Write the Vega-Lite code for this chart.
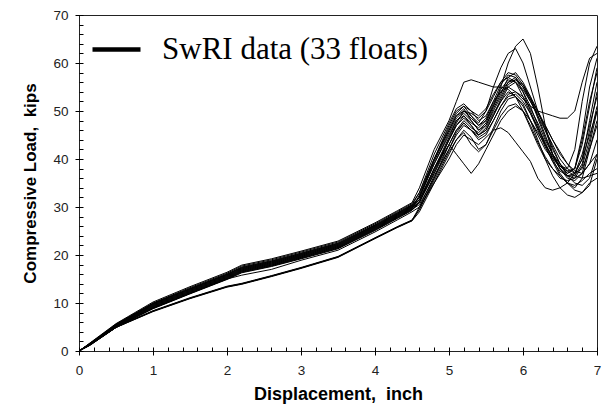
{
"$schema": "https://vega.github.io/schema/vega-lite/v6.json",
"width": 518, "height": 336,
"autosize": {"type": "none"},
"padding": {"left": 79, "top": 15, "right": 7, "bottom": 53},
"background": "white",
"config": {"view": {"stroke": "#222", "strokeWidth": 1}, "font": "Liberation Sans"},
"data": {"values": [
{"f":1,"x":0,"y":0},{"f":1,"x":0.15,"y":1.7},{"f":1,"x":0.5,"y":5.7},{"f":1,"x":1,"y":10.2},{"f":1,"x":1.5,"y":13.4},{"f":1,"x":2,"y":16.4},{"f":1,"x":2.2,"y":17.9},{"f":1,"x":2.6,"y":19.2},{"f":1,"x":3,"y":20.8},{"f":1,"x":3.5,"y":22.9},{"f":1,"x":4,"y":26.7},{"f":1,"x":4.3,"y":29.2},{"f":1,"x":4.5,"y":30.9},
{"f":1,"x":4.6,"y":34},{"f":1,"x":4.8,"y":42},{"f":1,"x":5,"y":48},{"f":1,"x":5.1,"y":52},{"f":1,"x":5.2,"y":56},{"f":1,"x":5.3,"y":56.5},{"f":1,"x":5.4,"y":56},{"f":1,"x":5.5,"y":55.5},{"f":1,"x":5.6,"y":55},{"f":1,"x":5.7,"y":55},{"f":1,"x":5.8,"y":54.5},{"f":1,"x":5.9,"y":53},{"f":1,"x":6,"y":51},{"f":1,"x":6.1,"y":48},{"f":1,"x":6.2,"y":45},{"f":1,"x":6.3,"y":42},{"f":1,"x":6.4,"y":40},{"f":1,"x":6.5,"y":38.5},{"f":1,"x":6.6,"y":37.5},{"f":1,"x":6.7,"y":38},{"f":1,"x":6.8,"y":44},{"f":1,"x":6.9,"y":52},{"f":1,"x":7,"y":58},
{"f":2,"x":0,"y":0},{"f":2,"x":0.15,"y":1.6},{"f":2,"x":0.5,"y":5.6},{"f":2,"x":1,"y":10.0},{"f":2,"x":1.5,"y":13.2},{"f":2,"x":2,"y":16.2},{"f":2,"x":2.2,"y":17.7},{"f":2,"x":2.6,"y":19.0},{"f":2,"x":3,"y":20.6},{"f":2,"x":3.5,"y":22.7},{"f":2,"x":4,"y":26.5},{"f":2,"x":4.3,"y":29.0},{"f":2,"x":4.5,"y":30.7},
{"f":2,"x":4.6,"y":33},{"f":2,"x":4.8,"y":40},{"f":2,"x":5,"y":46},{"f":2,"x":5.1,"y":49},{"f":2,"x":5.2,"y":50},{"f":2,"x":5.3,"y":48.5},{"f":2,"x":5.4,"y":47},{"f":2,"x":5.5,"y":48},{"f":2,"x":5.6,"y":51},{"f":2,"x":5.7,"y":55},{"f":2,"x":5.8,"y":60},{"f":2,"x":5.9,"y":63.5},{"f":2,"x":6,"y":65},{"f":2,"x":6.1,"y":62},{"f":2,"x":6.2,"y":55},{"f":2,"x":6.3,"y":47},{"f":2,"x":6.4,"y":41},{"f":2,"x":6.5,"y":38},{"f":2,"x":6.6,"y":36.5},{"f":2,"x":6.7,"y":36},{"f":2,"x":6.8,"y":37},{"f":2,"x":6.9,"y":39},{"f":2,"x":7,"y":41},
{"f":3,"x":0,"y":0},{"f":3,"x":0.15,"y":1.6},{"f":3,"x":0.5,"y":5.5},{"f":3,"x":1,"y":9.9},{"f":3,"x":1.5,"y":13.0},{"f":3,"x":2,"y":16.0},{"f":3,"x":2.2,"y":17.5},{"f":3,"x":2.6,"y":18.8},{"f":3,"x":3,"y":20.4},{"f":3,"x":3.5,"y":22.5},{"f":3,"x":4,"y":26.3},{"f":3,"x":4.3,"y":28.8},{"f":3,"x":4.5,"y":30.5},
{"f":3,"x":4.6,"y":32},{"f":3,"x":4.8,"y":40},{"f":3,"x":5,"y":47},{"f":3,"x":5.1,"y":50},{"f":3,"x":5.2,"y":51},{"f":3,"x":5.3,"y":49},{"f":3,"x":5.4,"y":47.5},{"f":3,"x":5.5,"y":50},{"f":3,"x":5.6,"y":55},{"f":3,"x":5.7,"y":59},{"f":3,"x":5.8,"y":62},{"f":3,"x":5.9,"y":63},{"f":3,"x":6,"y":60},{"f":3,"x":6.1,"y":55},{"f":3,"x":6.2,"y":50},{"f":3,"x":6.3,"y":46},{"f":3,"x":6.4,"y":42},{"f":3,"x":6.5,"y":39},{"f":3,"x":6.6,"y":37},{"f":3,"x":6.7,"y":38},{"f":3,"x":6.8,"y":45},{"f":3,"x":6.9,"y":55},{"f":3,"x":7,"y":61},
{"f":4,"x":0,"y":0},{"f":4,"x":0.15,"y":1.5},{"f":4,"x":0.5,"y":5.4},{"f":4,"x":1,"y":9.8},{"f":4,"x":1.5,"y":12.9},{"f":4,"x":2,"y":15.9},{"f":4,"x":2.2,"y":17.3},{"f":4,"x":2.6,"y":18.6},{"f":4,"x":3,"y":20.2},{"f":4,"x":3.5,"y":22.3},{"f":4,"x":4,"y":26.1},{"f":4,"x":4.3,"y":28.6},{"f":4,"x":4.5,"y":30.3},
{"f":4,"x":4.6,"y":32},{"f":4,"x":4.8,"y":39},{"f":4,"x":5,"y":45},{"f":4,"x":5.1,"y":48},{"f":4,"x":5.2,"y":49.5},{"f":4,"x":5.3,"y":48},{"f":4,"x":5.4,"y":46},{"f":4,"x":5.5,"y":47},{"f":4,"x":5.6,"y":50},{"f":4,"x":5.7,"y":53},{"f":4,"x":5.8,"y":56},{"f":4,"x":5.9,"y":57},{"f":4,"x":6,"y":55},{"f":4,"x":6.1,"y":52},{"f":4,"x":6.2,"y":49},{"f":4,"x":6.3,"y":46},{"f":4,"x":6.4,"y":43},{"f":4,"x":6.5,"y":40},{"f":4,"x":6.6,"y":38},{"f":4,"x":6.7,"y":37},{"f":4,"x":6.8,"y":40},{"f":4,"x":6.9,"y":48},{"f":4,"x":7,"y":56},
{"f":5,"x":0,"y":0},{"f":5,"x":0.15,"y":1.5},{"f":5,"x":0.5,"y":5.3},{"f":5,"x":1,"y":9.6},{"f":5,"x":1.5,"y":12.7},{"f":5,"x":2,"y":15.7},{"f":5,"x":2.2,"y":17.1},{"f":5,"x":2.6,"y":18.4},{"f":5,"x":3,"y":20.0},{"f":5,"x":3.5,"y":22.1},{"f":5,"x":4,"y":25.9},{"f":5,"x":4.3,"y":28.4},{"f":5,"x":4.5,"y":30.1},
{"f":5,"x":4.6,"y":31.5},{"f":5,"x":4.8,"y":38},{"f":5,"x":5,"y":44},{"f":5,"x":5.1,"y":47},{"f":5,"x":5.2,"y":49},{"f":5,"x":5.3,"y":47},{"f":5,"x":5.4,"y":45},{"f":5,"x":5.5,"y":46},{"f":5,"x":5.6,"y":49},{"f":5,"x":5.7,"y":52},{"f":5,"x":5.8,"y":55},{"f":5,"x":5.9,"y":56},{"f":5,"x":6,"y":54.5},{"f":5,"x":6.1,"y":52},{"f":5,"x":6.2,"y":49.5},{"f":5,"x":6.3,"y":47},{"f":5,"x":6.4,"y":44},{"f":5,"x":6.5,"y":41},{"f":5,"x":6.6,"y":39},{"f":5,"x":6.7,"y":37.5},{"f":5,"x":6.8,"y":37},{"f":5,"x":6.9,"y":39},{"f":5,"x":7,"y":44},
{"f":6,"x":0,"y":0},{"f":6,"x":0.15,"y":1.5},{"f":6,"x":0.5,"y":5.3},{"f":6,"x":1,"y":9.5},{"f":6,"x":1.5,"y":12.6},{"f":6,"x":2,"y":15.6},{"f":6,"x":2.2,"y":17.0},{"f":6,"x":2.6,"y":18.3},{"f":6,"x":3,"y":19.9},{"f":6,"x":3.5,"y":22.0},{"f":6,"x":4,"y":25.8},{"f":6,"x":4.3,"y":28.3},{"f":6,"x":4.5,"y":30.0},
{"f":6,"x":4.6,"y":32},{"f":6,"x":4.8,"y":39},{"f":6,"x":5,"y":45.5},{"f":6,"x":5.1,"y":48.5},{"f":6,"x":5.2,"y":50},{"f":6,"x":5.3,"y":49.5},{"f":6,"x":5.4,"y":48.5},{"f":6,"x":5.5,"y":50},{"f":6,"x":5.6,"y":53},{"f":6,"x":5.7,"y":56},{"f":6,"x":5.8,"y":58},{"f":6,"x":5.9,"y":57.5},{"f":6,"x":6,"y":55.5},{"f":6,"x":6.1,"y":52.5},{"f":6,"x":6.2,"y":48.5},{"f":6,"x":6.3,"y":44.5},{"f":6,"x":6.4,"y":41},{"f":6,"x":6.5,"y":38},{"f":6,"x":6.6,"y":36},{"f":6,"x":6.7,"y":35.5},{"f":6,"x":6.8,"y":37},{"f":6,"x":6.9,"y":43},{"f":6,"x":7,"y":50},
{"f":7,"x":0,"y":0},{"f":7,"x":0.15,"y":1.4},{"f":7,"x":0.5,"y":5.2},{"f":7,"x":1,"y":9.4},{"f":7,"x":1.5,"y":12.5},{"f":7,"x":2,"y":15.5},{"f":7,"x":2.2,"y":16.9},{"f":7,"x":2.6,"y":18.2},{"f":7,"x":3,"y":19.8},{"f":7,"x":3.5,"y":21.9},{"f":7,"x":4,"y":25.7},{"f":7,"x":4.3,"y":28.2},{"f":7,"x":4.5,"y":29.9},
{"f":7,"x":4.6,"y":31},{"f":7,"x":4.8,"y":37},{"f":7,"x":5,"y":44},{"f":7,"x":5.1,"y":47.5},{"f":7,"x":5.2,"y":50},{"f":7,"x":5.3,"y":49},{"f":7,"x":5.4,"y":47},{"f":7,"x":5.5,"y":48.5},{"f":7,"x":5.6,"y":52},{"f":7,"x":5.7,"y":54},{"f":7,"x":5.8,"y":55},{"f":7,"x":5.9,"y":54},{"f":7,"x":6,"y":52.5},{"f":7,"x":6.1,"y":51},{"f":7,"x":6.2,"y":50},{"f":7,"x":6.3,"y":49.5},{"f":7,"x":6.4,"y":49},{"f":7,"x":6.5,"y":48.5},{"f":7,"x":6.6,"y":48.5},{"f":7,"x":6.7,"y":50},{"f":7,"x":6.8,"y":56},{"f":7,"x":6.9,"y":61},{"f":7,"x":7,"y":62},
{"f":8,"x":0,"y":0},{"f":8,"x":0.15,"y":1.4},{"f":8,"x":0.5,"y":5.2},{"f":8,"x":1,"y":9.3},{"f":8,"x":1.5,"y":12.4},{"f":8,"x":2,"y":15.4},{"f":8,"x":2.2,"y":16.8},{"f":8,"x":2.6,"y":18.1},{"f":8,"x":3,"y":19.7},{"f":8,"x":3.5,"y":21.8},{"f":8,"x":4,"y":25.6},{"f":8,"x":4.3,"y":28.1},{"f":8,"x":4.5,"y":29.8},
{"f":8,"x":4.6,"y":31.5},{"f":8,"x":4.8,"y":38},{"f":8,"x":5,"y":44.5},{"f":8,"x":5.1,"y":48},{"f":8,"x":5.2,"y":49},{"f":8,"x":5.3,"y":47.5},{"f":8,"x":5.4,"y":46.5},{"f":8,"x":5.5,"y":48},{"f":8,"x":5.6,"y":51.5},{"f":8,"x":5.7,"y":54.5},{"f":8,"x":5.8,"y":56.5},{"f":8,"x":5.9,"y":56},{"f":8,"x":6,"y":54},{"f":8,"x":6.1,"y":51},{"f":8,"x":6.2,"y":47},{"f":8,"x":6.3,"y":43},{"f":8,"x":6.4,"y":39.5},{"f":8,"x":6.5,"y":36.5},{"f":8,"x":6.6,"y":35},{"f":8,"x":6.7,"y":34.5},{"f":8,"x":6.8,"y":35.5},{"f":8,"x":6.9,"y":37},{"f":8,"x":7,"y":38},
{"f":9,"x":0,"y":0},{"f":9,"x":0.15,"y":1.4},{"f":9,"x":0.5,"y":5.1},{"f":9,"x":1,"y":9.2},{"f":9,"x":1.5,"y":12.3},{"f":9,"x":2,"y":15.3},{"f":9,"x":2.2,"y":16.7},{"f":9,"x":2.6,"y":18.0},{"f":9,"x":3,"y":19.6},{"f":9,"x":3.5,"y":21.7},{"f":9,"x":4,"y":25.5},{"f":9,"x":4.3,"y":28.0},{"f":9,"x":4.5,"y":29.7},
{"f":9,"x":4.6,"y":31},{"f":9,"x":4.8,"y":37},{"f":9,"x":5,"y":43},{"f":9,"x":5.1,"y":46},{"f":9,"x":5.2,"y":48},{"f":9,"x":5.3,"y":46.5},{"f":9,"x":5.4,"y":45.5},{"f":9,"x":5.5,"y":47},{"f":9,"x":5.6,"y":50.5},{"f":9,"x":5.7,"y":53.5},{"f":9,"x":5.8,"y":57},{"f":9,"x":5.9,"y":58},{"f":9,"x":6,"y":56},{"f":9,"x":6.1,"y":53},{"f":9,"x":6.2,"y":49},{"f":9,"x":6.3,"y":45},{"f":9,"x":6.4,"y":41},{"f":9,"x":6.5,"y":38.5},{"f":9,"x":6.6,"y":37},{"f":9,"x":6.7,"y":38},{"f":9,"x":6.8,"y":43},{"f":9,"x":6.9,"y":51},{"f":9,"x":7,"y":59},
{"f":10,"x":0,"y":0},{"f":10,"x":0.15,"y":1.3},{"f":10,"x":0.5,"y":5.1},{"f":10,"x":1,"y":9.1},{"f":10,"x":1.5,"y":12.2},{"f":10,"x":2,"y":15.2},{"f":10,"x":2.2,"y":16.6},{"f":10,"x":2.6,"y":17.9},{"f":10,"x":3,"y":19.5},{"f":10,"x":3.5,"y":21.6},{"f":10,"x":4,"y":25.4},{"f":10,"x":4.3,"y":27.9},{"f":10,"x":4.5,"y":29.6},
{"f":10,"x":4.6,"y":32.5},{"f":10,"x":4.8,"y":40},{"f":10,"x":5,"y":46.5},{"f":10,"x":5.1,"y":49.5},{"f":10,"x":5.2,"y":51},{"f":10,"x":5.3,"y":50},{"f":10,"x":5.4,"y":48},{"f":10,"x":5.5,"y":49},{"f":10,"x":5.6,"y":52},{"f":10,"x":5.7,"y":55.5},{"f":10,"x":5.8,"y":57.5},{"f":10,"x":5.9,"y":57},{"f":10,"x":6,"y":54},{"f":10,"x":6.1,"y":50},{"f":10,"x":6.2,"y":46.5},{"f":10,"x":6.3,"y":43},{"f":10,"x":6.4,"y":40.5},{"f":10,"x":6.5,"y":38.5},{"f":10,"x":6.6,"y":38},{"f":10,"x":6.7,"y":42},{"f":10,"x":6.8,"y":52},{"f":10,"x":6.9,"y":60},{"f":10,"x":7,"y":63.5},
{"f":11,"x":0,"y":0},{"f":11,"x":0.15,"y":1.3},{"f":11,"x":0.5,"y":5.0},{"f":11,"x":1,"y":9.0},{"f":11,"x":1.5,"y":12.1},{"f":11,"x":2,"y":15.1},{"f":11,"x":2.2,"y":16.5},{"f":11,"x":2.6,"y":17.8},{"f":11,"x":3,"y":19.4},{"f":11,"x":3.5,"y":21.5},{"f":11,"x":4,"y":25.3},{"f":11,"x":4.3,"y":27.8},{"f":11,"x":4.5,"y":29.5},
{"f":11,"x":4.6,"y":30.5},{"f":11,"x":4.8,"y":36},{"f":11,"x":5,"y":42},{"f":11,"x":5.1,"y":45.5},{"f":11,"x":5.2,"y":47.5},{"f":11,"x":5.3,"y":46},{"f":11,"x":5.4,"y":44.5},{"f":11,"x":5.5,"y":45.5},{"f":11,"x":5.6,"y":48},{"f":11,"x":5.7,"y":51},{"f":11,"x":5.8,"y":53.5},{"f":11,"x":5.9,"y":54},{"f":11,"x":6,"y":53},{"f":11,"x":6.1,"y":50.5},{"f":11,"x":6.2,"y":47.5},{"f":11,"x":6.3,"y":44},{"f":11,"x":6.4,"y":41},{"f":11,"x":6.5,"y":39},{"f":11,"x":6.6,"y":37.5},{"f":11,"x":6.7,"y":36.5},{"f":11,"x":6.8,"y":36},{"f":11,"x":6.9,"y":36.5},{"f":11,"x":7,"y":37},
{"f":12,"x":0,"y":0},{"f":12,"x":0.15,"y":1.2},{"f":12,"x":0.5,"y":4.9},{"f":12,"x":1,"y":8.8},{"f":12,"x":1.5,"y":11.9},{"f":12,"x":2,"y":14.9},{"f":12,"x":2.2,"y":16.3},{"f":12,"x":2.6,"y":17.6},{"f":12,"x":3,"y":19.2},{"f":12,"x":3.5,"y":21.3},{"f":12,"x":4,"y":25.1},{"f":12,"x":4.3,"y":27.6},{"f":12,"x":4.5,"y":29.3},
{"f":12,"x":4.6,"y":31},{"f":12,"x":4.8,"y":38},{"f":12,"x":5,"y":43},{"f":12,"x":5.1,"y":41},{"f":12,"x":5.2,"y":39},{"f":12,"x":5.3,"y":37},{"f":12,"x":5.4,"y":39},{"f":12,"x":5.5,"y":42},{"f":12,"x":5.6,"y":45},{"f":12,"x":5.7,"y":48},{"f":12,"x":5.8,"y":50},{"f":12,"x":5.9,"y":51},{"f":12,"x":6,"y":50},{"f":12,"x":6.1,"y":48},{"f":12,"x":6.2,"y":45.5},{"f":12,"x":6.3,"y":43},{"f":12,"x":6.4,"y":40.5},{"f":12,"x":6.5,"y":38},{"f":12,"x":6.6,"y":36.5},{"f":12,"x":6.7,"y":37},{"f":12,"x":6.8,"y":41},{"f":12,"x":6.9,"y":47},{"f":12,"x":7,"y":53},
{"f":13,"x":0,"y":0},{"f":13,"x":0.15,"y":1.2},{"f":13,"x":0.5,"y":4.9},{"f":13,"x":1,"y":8.9},{"f":13,"x":1.5,"y":12.0},{"f":13,"x":2,"y":15.0},{"f":13,"x":2.2,"y":15.8},{"f":13,"x":2.6,"y":17.0},{"f":13,"x":3,"y":18.9},{"f":13,"x":3.5,"y":21.0},{"f":13,"x":4,"y":24.8},{"f":13,"x":4.3,"y":27.3},{"f":13,"x":4.5,"y":29.0},
{"f":13,"x":4.6,"y":30},{"f":13,"x":4.8,"y":35},{"f":13,"x":5,"y":40},{"f":13,"x":5.1,"y":43},{"f":13,"x":5.2,"y":45},{"f":13,"x":5.3,"y":44},{"f":13,"x":5.4,"y":43},{"f":13,"x":5.5,"y":44.5},{"f":13,"x":5.6,"y":46},{"f":13,"x":5.7,"y":46.5},{"f":13,"x":5.8,"y":45.5},{"f":13,"x":5.9,"y":43.5},{"f":13,"x":6,"y":41.5},{"f":13,"x":6.1,"y":39.5},{"f":13,"x":6.2,"y":36},{"f":13,"x":6.3,"y":34},{"f":13,"x":6.4,"y":33.5},{"f":13,"x":6.5,"y":34},{"f":13,"x":6.6,"y":35},{"f":13,"x":6.7,"y":37},{"f":13,"x":6.8,"y":40},{"f":13,"x":6.9,"y":45},{"f":13,"x":7,"y":50},
{"f":14,"x":0,"y":0},{"f":14,"x":0.15,"y":1.4},{"f":14,"x":0.5,"y":5.0},{"f":14,"x":1,"y":8.4},{"f":14,"x":1.5,"y":11.1},{"f":14,"x":2,"y":13.5},{"f":14,"x":2.2,"y":14.1},{"f":14,"x":2.6,"y":15.7},{"f":14,"x":3,"y":17.4},{"f":14,"x":3.5,"y":19.7},{"f":14,"x":4,"y":23.6},{"f":14,"x":4.3,"y":25.9},{"f":14,"x":4.5,"y":27.3},
{"f":14,"x":4.6,"y":29.5},{"f":14,"x":4.8,"y":36},{"f":14,"x":5,"y":43},{"f":14,"x":5.1,"y":46},{"f":14,"x":5.2,"y":47.5},{"f":14,"x":5.3,"y":46},{"f":14,"x":5.4,"y":44},{"f":14,"x":5.5,"y":45},{"f":14,"x":5.6,"y":48},{"f":14,"x":5.7,"y":51},{"f":14,"x":5.8,"y":53},{"f":14,"x":5.9,"y":53.5},{"f":14,"x":6,"y":52},{"f":14,"x":6.1,"y":49.5},{"f":14,"x":6.2,"y":46.5},{"f":14,"x":6.3,"y":43.5},{"f":14,"x":6.4,"y":40},{"f":14,"x":6.5,"y":37},{"f":14,"x":6.6,"y":35},{"f":14,"x":6.7,"y":34},{"f":14,"x":6.8,"y":36},{"f":14,"x":6.9,"y":42},{"f":14,"x":7,"y":48},
{"f":15,"x":0,"y":0},{"f":15,"x":0.15,"y":1.3},{"f":15,"x":0.5,"y":4.9},{"f":15,"x":1,"y":8.2},{"f":15,"x":1.5,"y":10.9},{"f":15,"x":2,"y":13.3},{"f":15,"x":2.2,"y":13.9},{"f":15,"x":2.6,"y":15.5},{"f":15,"x":3,"y":17.2},{"f":15,"x":3.5,"y":19.5},{"f":15,"x":4,"y":23.4},{"f":15,"x":4.3,"y":25.7},{"f":15,"x":4.5,"y":27.1},
{"f":15,"x":4.6,"y":29},{"f":15,"x":4.8,"y":35},{"f":15,"x":5,"y":41},{"f":15,"x":5.1,"y":44},{"f":15,"x":5.2,"y":46},{"f":15,"x":5.3,"y":44.5},{"f":15,"x":5.4,"y":42},{"f":15,"x":5.5,"y":43},{"f":15,"x":5.6,"y":46.5},{"f":15,"x":5.7,"y":50},{"f":15,"x":5.8,"y":52.5},{"f":15,"x":5.9,"y":53},{"f":15,"x":6,"y":51.5},{"f":15,"x":6.1,"y":48},{"f":15,"x":6.2,"y":44},{"f":15,"x":6.3,"y":40},{"f":15,"x":6.4,"y":36.5},{"f":15,"x":6.5,"y":34},{"f":15,"x":6.6,"y":32.5},{"f":15,"x":6.7,"y":32},{"f":15,"x":6.8,"y":33},{"f":15,"x":6.9,"y":35},{"f":15,"x":7,"y":36},
{"f":16,"x":0,"y":0},{"f":16,"x":0.15,"y":1.4},{"f":16,"x":0.5,"y":5.0},{"f":16,"x":1,"y":8.3},{"f":16,"x":1.5,"y":11.0},{"f":16,"x":2,"y":13.4},{"f":16,"x":2.2,"y":14.0},{"f":16,"x":2.6,"y":15.6},{"f":16,"x":3,"y":17.3},{"f":16,"x":3.5,"y":19.6},{"f":16,"x":4,"y":23.5},{"f":16,"x":4.3,"y":25.8},{"f":16,"x":4.5,"y":27.2},
{"f":16,"x":4.6,"y":30},{"f":16,"x":4.8,"y":36.5},{"f":16,"x":5,"y":42},{"f":16,"x":5.1,"y":45},{"f":16,"x":5.2,"y":47},{"f":16,"x":5.3,"y":46},{"f":16,"x":5.4,"y":45},{"f":16,"x":5.5,"y":46.5},{"f":16,"x":5.6,"y":49.5},{"f":16,"x":5.7,"y":52},{"f":16,"x":5.8,"y":54},{"f":16,"x":5.9,"y":53},{"f":16,"x":6,"y":50},{"f":16,"x":6.1,"y":46.5},{"f":16,"x":6.2,"y":43},{"f":16,"x":6.3,"y":40},{"f":16,"x":6.4,"y":38},{"f":16,"x":6.5,"y":36.5},{"f":16,"x":6.6,"y":35},{"f":16,"x":6.7,"y":33.5},{"f":16,"x":6.8,"y":33},{"f":16,"x":6.9,"y":34.5},{"f":16,"x":7,"y":40},
{"f":17,"x":0,"y":0},{"f":17,"x":0.15,"y":1.5},{"f":17,"x":0.5,"y":5.4},{"f":17,"x":1,"y":9.7},{"f":17,"x":1.5,"y":12.8},{"f":17,"x":2,"y":15.8},{"f":17,"x":2.2,"y":17.2},{"f":17,"x":2.6,"y":18.5},{"f":17,"x":3,"y":20.1},{"f":17,"x":3.5,"y":22.2},{"f":17,"x":4,"y":26.0},{"f":17,"x":4.3,"y":28.5},{"f":17,"x":4.5,"y":30.2},
{"f":17,"x":4.6,"y":32},{"f":17,"x":4.8,"y":39.5},{"f":17,"x":5,"y":46},{"f":17,"x":5.1,"y":49},{"f":17,"x":5.2,"y":50.5},{"f":17,"x":5.3,"y":48},{"f":17,"x":5.4,"y":46},{"f":17,"x":5.5,"y":47.5},{"f":17,"x":5.6,"y":51},{"f":17,"x":5.7,"y":54},{"f":17,"x":5.8,"y":56},{"f":17,"x":5.9,"y":56.5},{"f":17,"x":6,"y":55},{"f":17,"x":6.1,"y":52.5},{"f":17,"x":6.2,"y":50},{"f":17,"x":6.3,"y":47},{"f":17,"x":6.4,"y":44},{"f":17,"x":6.5,"y":41.5},{"f":17,"x":6.6,"y":39},{"f":17,"x":6.7,"y":37},{"f":17,"x":6.8,"y":38},{"f":17,"x":6.9,"y":42},{"f":17,"x":7,"y":47},
{"f":18,"x":0,"y":0},{"f":18,"x":0.15,"y":1.3},{"f":18,"x":0.5,"y":5.0},{"f":18,"x":1,"y":8.9},{"f":18,"x":1.5,"y":12.0},{"f":18,"x":2,"y":15.0},{"f":18,"x":2.2,"y":16.4},{"f":18,"x":2.6,"y":17.7},{"f":18,"x":3,"y":19.3},{"f":18,"x":3.5,"y":21.4},{"f":18,"x":4,"y":25.2},{"f":18,"x":4.3,"y":27.7},{"f":18,"x":4.5,"y":29.4},
{"f":18,"x":4.6,"y":31},{"f":18,"x":4.8,"y":37.5},{"f":18,"x":5,"y":44},{"f":18,"x":5.1,"y":47},{"f":18,"x":5.2,"y":48.5},{"f":18,"x":5.3,"y":47},{"f":18,"x":5.4,"y":45},{"f":18,"x":5.5,"y":46},{"f":18,"x":5.6,"y":49},{"f":18,"x":5.7,"y":52.5},{"f":18,"x":5.8,"y":55.5},{"f":18,"x":5.9,"y":56.5},{"f":18,"x":6,"y":55.5},{"f":18,"x":6.1,"y":53},{"f":18,"x":6.2,"y":50},{"f":18,"x":6.3,"y":46.5},{"f":18,"x":6.4,"y":42.5},{"f":18,"x":6.5,"y":39},{"f":18,"x":6.6,"y":36.5},{"f":18,"x":6.7,"y":35},{"f":18,"x":6.8,"y":34.5},{"f":18,"x":6.9,"y":36},{"f":18,"x":7,"y":41},
{"f":19,"x":0,"y":0},{"f":19,"x":0.15,"y":1.6},{"f":19,"x":0.5,"y":5.5},{"f":19,"x":1,"y":9.9},{"f":19,"x":1.5,"y":13.0},{"f":19,"x":2,"y":16.0},{"f":19,"x":2.2,"y":17.4},{"f":19,"x":2.6,"y":18.7},{"f":19,"x":3,"y":20.3},{"f":19,"x":3.5,"y":22.4},{"f":19,"x":4,"y":26.2},{"f":19,"x":4.3,"y":28.7},{"f":19,"x":4.5,"y":30.4},
{"f":19,"x":4.6,"y":33},{"f":19,"x":4.8,"y":41},{"f":19,"x":5,"y":47.5},{"f":19,"x":5.1,"y":50.5},{"f":19,"x":5.2,"y":51.5},{"f":19,"x":5.3,"y":50},{"f":19,"x":5.4,"y":49},{"f":19,"x":5.5,"y":50.5},{"f":19,"x":5.6,"y":53.5},{"f":19,"x":5.7,"y":56},{"f":19,"x":5.8,"y":57},{"f":19,"x":5.9,"y":56},{"f":19,"x":6,"y":53},{"f":19,"x":6.1,"y":49.5},{"f":19,"x":6.2,"y":46},{"f":19,"x":6.3,"y":42.5},{"f":19,"x":6.4,"y":39.5},{"f":19,"x":6.5,"y":37.5},{"f":19,"x":6.6,"y":36.5},{"f":19,"x":6.7,"y":36.5},{"f":19,"x":6.8,"y":39},{"f":19,"x":6.9,"y":46},{"f":19,"x":7,"y":54},
{"f":20,"x":0,"y":0},{"f":20,"x":0.15,"y":1.3},{"f":20,"x":0.5,"y":4.9},{"f":20,"x":1,"y":8.3},{"f":20,"x":1.5,"y":11.0},{"f":20,"x":2,"y":13.4},{"f":20,"x":2.2,"y":14.0},{"f":20,"x":2.6,"y":15.6},{"f":20,"x":3,"y":17.3},{"f":20,"x":3.5,"y":19.6},{"f":20,"x":4,"y":23.5},{"f":20,"x":4.3,"y":25.8},{"f":20,"x":4.5,"y":27.2},
{"f":20,"x":4.6,"y":29.5},{"f":20,"x":4.8,"y":35.5},{"f":20,"x":5,"y":41.5},{"f":20,"x":5.1,"y":44},{"f":20,"x":5.2,"y":45.5},{"f":20,"x":5.3,"y":43},{"f":20,"x":5.4,"y":41.5},{"f":20,"x":5.5,"y":43},{"f":20,"x":5.6,"y":46},{"f":20,"x":5.7,"y":49},{"f":20,"x":5.8,"y":51},{"f":20,"x":5.9,"y":51.5},{"f":20,"x":6,"y":50},{"f":20,"x":6.1,"y":47},{"f":20,"x":6.2,"y":43.5},{"f":20,"x":6.3,"y":40.5},{"f":20,"x":6.4,"y":38},{"f":20,"x":6.5,"y":36},{"f":20,"x":6.6,"y":35.5},{"f":20,"x":6.7,"y":36},{"f":20,"x":6.8,"y":38.5},{"f":20,"x":6.9,"y":44},{"f":20,"x":7,"y":51}
]},
"mark": {"type": "line", "strokeWidth": 1, "clip": true},
"encoding": {
  "x": {"field": "x", "type": "quantitative", "scale": {"domain": [0, 7], "nice": false, "zero": false},
        "axis": {"orient": "bottom", "offset": -4, "domain": false,
                 "values": [0,0.2,0.4,0.6,0.8,1,1.2,1.4,1.6,1.8,2,2.2,2.4,2.6,2.8,3,3.2,3.4,3.6,3.8,4,4.2,4.4,4.6,4.8,5,5.2,5.4,5.6,5.8,6,6.2,6.4,6.6,6.8,7],
                 "labelExpr": "abs(datum.value - round(datum.value)) < 0.01 ? format(datum.value, 'd') : ''",
                 "grid": false, "tickColor": "black", "tickWidth": 1,
                 "tickSize": {"condition": {"test": "abs(datum.value - round(datum.value)) < 0.01", "value": 8}, "value": 4},
                 "labelFont": "Liberation Sans", "labelFontSize": 13.5, "labelColor": "#222", "labelPadding": 8.5, "labelFlush": false,
                 "title": "Displacement,\u00a0 inch", "titleFont": "Liberation Sans", "titleFontSize": 18, "titleFontWeight": "bold", "titleColor": "black", "titlePadding": 8.5}},
  "y": {"field": "y", "type": "quantitative", "scale": {"domain": [0, 70], "nice": false},
        "axis": {"orient": "left", "offset": -4, "domain": false,
                 "values": [0,2,4,6,8,10,12,14,16,18,20,22,24,26,28,30,32,34,36,38,40,42,44,46,48,50,52,54,56,58,60,62,64,66,68,70],
                 "labelExpr": "datum.value % 10 === 0 ? format(datum.value, 'd') : ''",
                 "grid": false, "tickColor": "black", "tickWidth": 1,
                 "tickSize": {"condition": {"test": "datum.value % 10 === 0", "value": 8}, "value": 4},
                 "labelFont": "Liberation Sans", "labelFontSize": 13.5, "labelColor": "#222", "labelPadding": 7, "labelFlush": false,
                 "title": "Compressive Load,\u00a0 kips", "titleFont": "Liberation Sans", "titleFontSize": 17, "titleFontWeight": "bold", "titleColor": "black", "titlePadding": 13}},
  "detail": {"field": "f", "type": "nominal"},
  "color": {"datum": "SwRI data (33 floats)", "type": "nominal", "scale": {"range": ["black"]},
            "legend": {"orient": "none", "legendX": 11, "legendY": 8, "title": null, "symbolType": "stroke", "symbolSize": 2304, "symbolStrokeWidth": 4.5, "labelFont": "Liberation Serif", "labelFontSize": 31, "labelColor": "black", "labelOffset": 19, "labelLimit": 600}}
}
}
